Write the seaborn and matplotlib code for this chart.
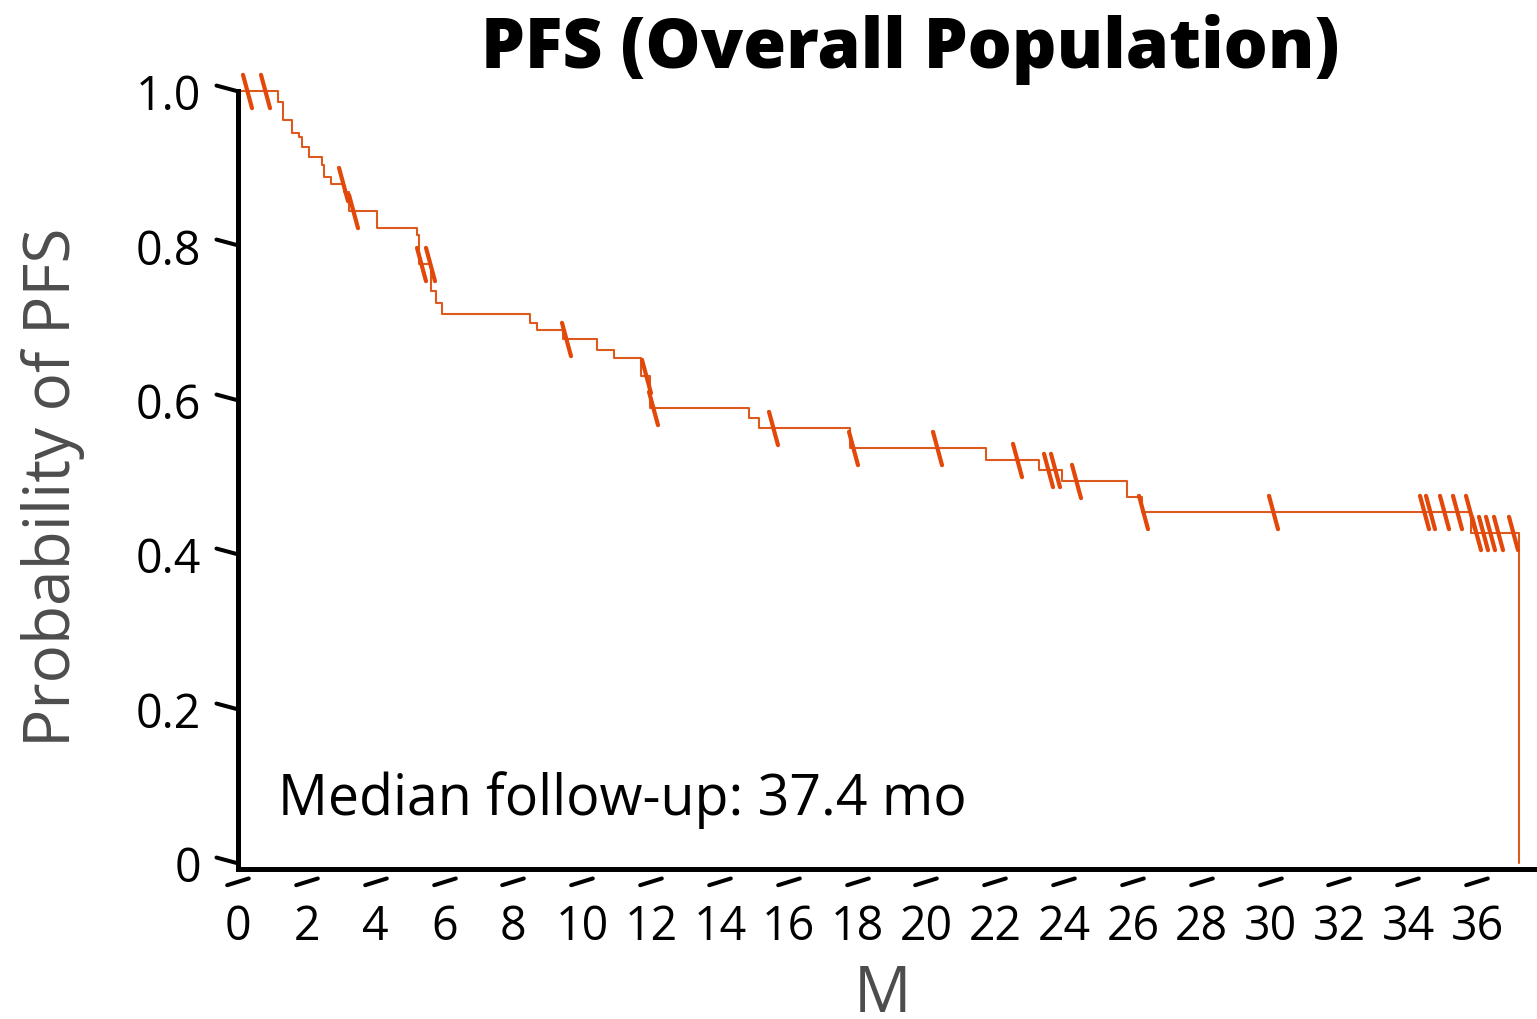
import numpy as np
import matplotlib
matplotlib.use("Agg")
import matplotlib.pyplot as plt
from matplotlib.path import Path
from matplotlib.markers import MarkerStyle
import seaborn as sns

# Kaplan-Meier estimate: event times (months) and survival after each step
step_months = [0.0, 1.15, 1.31, 1.58, 1.77, 1.85, 2.07, 2.43, 2.50, 2.70,
               3.08, 3.22, 4.03, 5.21, 5.26, 5.60, 5.75, 5.94, 8.48, 8.70,
               9.45, 10.42, 10.93, 11.70, 11.97, 14.84, 15.14, 17.78, 21.72, 23.26,
               23.95, 25.84, 26.26, 35.82, 37.22]
step_surv = [1.000, 0.986, 0.962, 0.946, 0.940, 0.927, 0.914, 0.904, 0.889, 0.880,
             0.869, 0.845, 0.822, 0.813, 0.776, 0.741, 0.725, 0.711, 0.700, 0.690,
             0.679, 0.664, 0.654, 0.631, 0.589, 0.576, 0.563, 0.538, 0.522, 0.509,
             0.495, 0.474, 0.455, 0.427, 0.000]
# censored observations (months)
censor_months = [0.25, 0.78, 3.05, 3.34, 5.33, 5.58, 9.52, 11.84, 12.07, 15.55,
                 17.87, 20.31, 22.62, 23.52, 23.73, 24.36, 26.30, 30.08, 34.46, 34.63,
                 35.05, 35.42, 35.80, 35.98, 36.17, 36.37, 36.61, 37.05]

x_ticks = list(range(0, 37, 2))
y_ticks = [0, 0.2, 0.4, 0.6, 0.8, 1.0]
y_tick_labels = ["0", "0.2", "0.4", "0.6", "0.8", "1.0"]

title = "PFS (Overall Population)"
x_label = "M"
y_label = "Probability of PFS"
note = "Median follow-up: 37.4 mo"

line_color = "#DD5A1E"
censor_color = "#E2480A"
label_grey = "#4D4D4D"

sns.set_theme(style="white")
plt.rcParams["font.family"] = ["Open Sans", "DejaVu Sans"]

W, H = 1537, 1020
fig = plt.figure(figsize=(W / 100, H / 100), dpi=100)
ax = fig.add_axes([238 / W, 1 - 870 / H, 1299 / W, 778 / H])

# survival curve
sns.lineplot(x=step_months, y=step_surv, drawstyle="steps-post", estimator=None,
             sort=False, color=line_color, linewidth=1.5, ax=ax, clip_on=False)

# censor marks sit on the step function
t_arr = np.asarray(step_months)
s_arr = np.asarray(step_surv)
censor_surv = s_arr[np.searchsorted(t_arr, censor_months, side="right") - 1]
censor_marker = MarkerStyle(Path([(-0.27, 1.0), (0.27, -1.0)]))
sns.scatterplot(x=censor_months, y=censor_surv, marker=censor_marker, s=24 ** 2,
                color=censor_color, edgecolor=censor_color, linewidth=3,
                ax=ax, clip_on=False, zorder=4, legend=False)
ax.collections[-1].set_capstyle("round")

ax.set_xlim(0, 37.74)
ax.set_ylim(-0.0078, 1.0)
ax.set_xticks(x_ticks)
ax.set_xticklabels([str(v) for v in x_ticks])
ax.set_yticks(y_ticks)
ax.set_yticklabels(y_tick_labels)

for side in ("top", "right"):
    ax.spines[side].set_visible(False)
for side in ("left", "bottom"):
    ax.spines[side].set_color("black")
    ax.spines[side].set_linewidth(3.6)
    ax.spines[side].set_capstyle("projecting")

ax.tick_params(axis="y", left=True, length=15.8, width=2.9, pad=10.8, direction="out",
               labelsize=33.5, colors="black")
ax.tick_params(axis="x", bottom=True, length=8, width=2.9, pad=15.8, direction="out",
               labelsize=33.5, colors="black")

# slanted tick strokes
ytick_marker = MarkerStyle(Path([(-1.0, 0.27), (0.0, 0.0)]), capstyle="round")
xtick_marker = MarkerStyle(Path([(-0.72, -1.0), (0.656, -0.573)]), capstyle="round")
for t in ax.yaxis.get_major_ticks():
    t.tick1line.set_visible(True)
    t.tick1line.set_marker(ytick_marker)
    t.tick1line.set_markersize(31.7)
    t.tick1line.set_markeredgewidth(2.9)
    t.tick1line.set_markeredgecolor("black")
for t in ax.xaxis.get_major_ticks():
    t.tick1line.set_visible(True)
    t.tick1line.set_marker(xtick_marker)
    t.tick1line.set_markersize(22.6)
    t.tick1line.set_markeredgewidth(2.9)
    t.tick1line.set_markeredgecolor("black")

ax.set_xlabel(x_label, fontsize=46, color=label_grey)
ax.xaxis.label.set_va("baseline")
ax.xaxis.set_label_coords(0.4965, -0.183)
ax.set_ylabel(y_label, fontsize=46, color=label_grey)
ax.yaxis.label.set_va("baseline")
ax.yaxis.set_label_coords(-0.1293, 0.4923)

ax.text(1.16, 0.063, note, fontsize=40, color="black", va="baseline", ha="left")

fig.text(910 / W, 1 - 68 / H, title, fontsize=50, fontweight="heavy",
         ha="center", va="baseline", color="black")

fig.savefig("out.png", dpi=100, facecolor="white")
